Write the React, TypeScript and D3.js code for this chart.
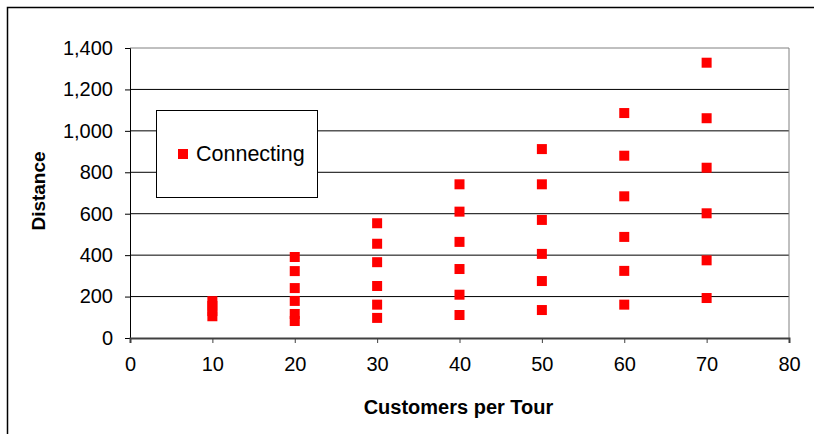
import React, { useEffect, useRef } from 'react';
import * as d3 from 'd3';

// customers per tour (x) and the distances read for each group
const customersPerTour = [10, 20, 30, 40, 50, 60, 70];
const distanceAt10 = [105, 130, 155, 178];
const distanceAt20 = [82, 116, 179, 241, 323, 391];
const distanceAt30 = [97, 161, 251, 366, 455, 554];
const distanceAt40 = [111, 209, 333, 464, 610, 742];
const distanceAt50 = [135, 275, 406, 570, 742, 912];
const distanceAt60 = [161, 324, 488, 684, 880, 1086];
const distanceAt70 = [193, 375, 602, 822, 1061, 1329];

const xTicks = [0, 10, 20, 30, 40, 50, 60, 70, 80];
const yTicks = [0, 200, 400, 600, 800, 1000, 1200, 1400];
const seriesName = 'Connecting';

const groups = [distanceAt10, distanceAt20, distanceAt30, distanceAt40, distanceAt50, distanceAt60, distanceAt70];

export default function App() {
  const svgRef = useRef<SVGSVGElement>(null);
  const width = 814;
  const height = 434;

  useEffect(() => {
    if (!svgRef.current) return;
    const svg = d3.select(svgRef.current);
    svg.selectAll('*').remove();

    const font = '"Liberation Sans", Arial, sans-serif';
    const left = 130, right = 789, top = 48, bottom = 338;

    const x = d3.scaleLinear().domain([0, 80]).range([left, right]);
    const y = d3.scaleLinear().domain([0, 1400]).range([bottom, top]);

    const points = groups.flatMap((vals, i) => vals.map(v => ({ c: customersPerTour[i], d: v })));

    // outer chart border (cropped by the picture on right/bottom)
    svg.append('rect')
      .attr('x', 7.5).attr('y', 7.5)
      .attr('width', 830).attr('height', 450)
      .attr('fill', '#fff')
      .attr('stroke', '#000')
      .attr('stroke-width', 1.5);

    // gridlines
    svg.append('g')
      .selectAll('line')
      .data(yTicks.slice(1))
      .enter()
      .append('line')
      .attr('x1', left).attr('x2', right)
      .attr('y1', d => y(d)).attr('y2', d => y(d))
      .attr('stroke', d => d === 1400 ? '#808080' : '#000')
      .attr('stroke-width', 1);

    // plot area right edge
    svg.append('line')
      .attr('x1', right).attr('x2', right)
      .attr('y1', top).attr('y2', bottom)
      .attr('stroke', '#808080');

    // y axis
    const yAxis = svg.append('g')
      .attr('transform', `translate(${left},0)`)
      .call(d3.axisLeft(y).tickValues(yTicks).tickSize(5).tickPadding(12).tickFormat(d3.format(',') as any));
    yAxis.select('.domain').attr('stroke', '#000');
    yAxis.selectAll('.tick line').attr('stroke', '#000');
    yAxis.selectAll('text')
      .attr('font-family', font)
      .attr('font-size', '20px')
      .attr('fill', '#000');

    // x axis
    const xAxis = svg.append('g')
      .attr('transform', `translate(0,${bottom})`)
      .call(d3.axisBottom(x).tickValues(xTicks).tickSize(5).tickSizeOuter(5).tickPadding(14));
    xAxis.select('.domain').attr('stroke', '#404040').attr('stroke-width', 2);
    xAxis.selectAll('.tick line').attr('stroke', '#404040');
    xAxis.selectAll('text')
      .attr('font-family', font)
      .attr('font-size', '20px')
      .attr('fill', '#000');

    // points
    const size = 10;
    svg.append('g')
      .selectAll('rect')
      .data(points)
      .enter()
      .append('rect')
      .attr('x', d => x(d.c) - size / 2)
      .attr('y', d => y(d.d) - size / 2)
      .attr('width', size)
      .attr('height', size)
      .attr('fill', '#ff0000');

    // legend
    const lg = svg.append('g');
    lg.append('rect')
      .attr('x', 156.5).attr('y', 110.5)
      .attr('width', 161).attr('height', 87)
      .attr('fill', '#fff')
      .attr('stroke', '#000');
    lg.append('rect')
      .attr('x', 178).attr('y', 149)
      .attr('width', size).attr('height', size)
      .attr('fill', '#ff0000');
    lg.append('text')
      .attr('x', 196).attr('y', 161)
      .attr('font-family', font)
      .attr('font-size', '21.5px')
      .attr('fill', '#000')
      .text(seriesName);

    // axis titles
    svg.append('text')
      .attr('x', (left + right) / 2 - 1)
      .attr('y', 414)
      .attr('text-anchor', 'middle')
      .attr('font-family', font)
      .attr('font-size', '20px')
      .attr('font-weight', 'bold')
      .attr('fill', '#000')
      .text('Customers per Tour');

    svg.append('text')
      .attr('transform', `translate(45,${(top + bottom) / 2 - 2}) rotate(-90)`)
      .attr('text-anchor', 'middle')
      .attr('font-family', font)
      .attr('font-size', '19px')
      .attr('font-weight', 'bold')
      .attr('fill', '#000')
      .text('Distance');
  }, []);

  return (
    <div style={{ position: 'absolute', left: 0, top: 0 }}>
      <svg ref={svgRef} width={width} height={height} style={{ display: 'block' }} />
    </div>
  );
}
